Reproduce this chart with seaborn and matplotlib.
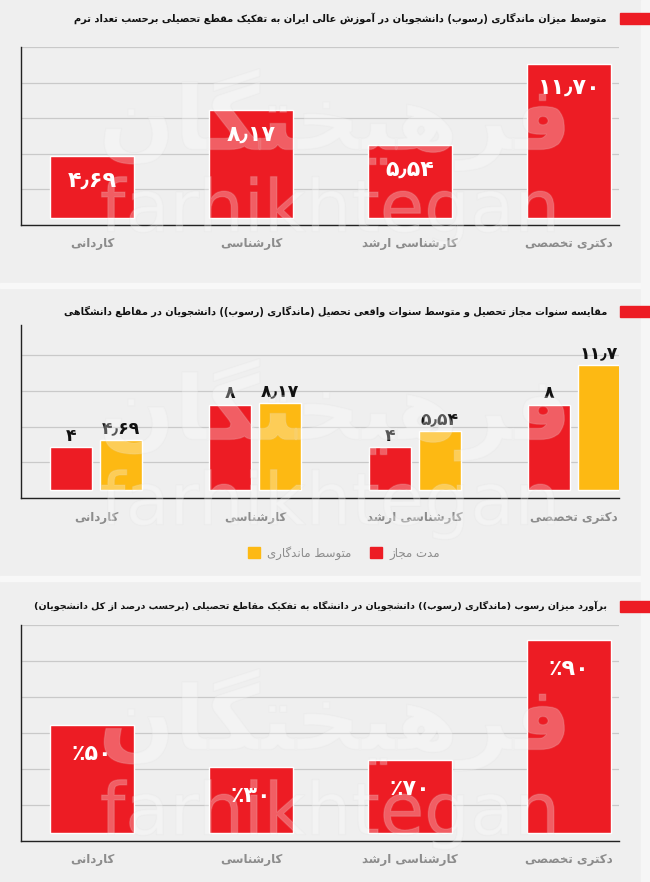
import numpy as np
import pandas as pd
import matplotlib
matplotlib.use('Agg')
import matplotlib.pyplot as plt
import matplotlib.patheffects as pe
from matplotlib.patches import Rectangle, Patch
import seaborn as sns

sns.set_style('white')
plt.rcParams['font.family'] = ['DejaVu Sans']

# ---- data ----
categories = ['کاردانی', 'کارشناسی', 'کارشناسی ارشد', 'دکتری تخصصی']
avg_terms = [4.69, 8.17, 5.54, 11.70]          # panel 1
allowed_years = [4, 8, 4, 8]                   # panel 2, red
avg_years = [4.69, 8.17, 5.54, 11.7]           # panel 2, yellow
dropout_pct = [50, 30, 70, 90]                 # panel 3 labels
dropout_bar = [2.99, 1.84, 2.04, 5.36]         # panel 3 bar heights as drawn (grid units)
titles = [
    'متوسط میزان ماندگاری (رسوب) دانشجویان در آموزش عالی ایران به تفکیک مقطع تحصیلی برحسب تعداد ترم',
    'مقایسه سنوات مجاز تحصیل و متوسط سنوات واقعی تحصیل (ماندگاری (رسوب)) دانشجویان در مقاطع دانشگاهی',
    'برآورد میزان رسوب (ماندگاری (رسوب)) دانشجویان در دانشگاه به تفکیک مقاطع تحصیلی (برحسب درصد از کل دانشجویان)',
]
series_names = ['مدت مجاز', 'متوسط ماندگاری']

RED = '#ed1c24'
YEL = '#fdb913'
BG = '#efefef'
GRAY = '#8c8c8c'

# ---- minimal persian shaping (matplotlib has no bidi) ----
forms = {
    'ا': (0xFE8D, 0xFE8E, None, None), 'آ': (0xFE81, 0xFE82, None, None),
    'ب': (0xFE8F, 0xFE90, 0xFE91, 0xFE92), 'پ': (0xFB56, 0xFB57, 0xFB58, 0xFB59),
    'ت': (0xFE95, 0xFE96, 0xFE97, 0xFE98), 'ث': (0xFE99, 0xFE9A, 0xFE9B, 0xFE9C),
    'ج': (0xFE9D, 0xFE9E, 0xFE9F, 0xFEA0), 'چ': (0xFB7A, 0xFB7B, 0xFB7C, 0xFB7D),
    'ح': (0xFEA1, 0xFEA2, 0xFEA3, 0xFEA4), 'خ': (0xFEA5, 0xFEA6, 0xFEA7, 0xFEA8),
    'د': (0xFEA9, 0xFEAA, None, None), 'ذ': (0xFEAB, 0xFEAC, None, None),
    'ر': (0xFEAD, 0xFEAE, None, None), 'ز': (0xFEAF, 0xFEB0, None, None),
    'ژ': (0xFB8A, 0xFB8B, None, None),
    'س': (0xFEB1, 0xFEB2, 0xFEB3, 0xFEB4), 'ش': (0xFEB5, 0xFEB6, 0xFEB7, 0xFEB8),
    'ص': (0xFEB9, 0xFEBA, 0xFEBB, 0xFEBC), 'ض': (0xFEBD, 0xFEBE, 0xFEBF, 0xFEC0),
    'ط': (0xFEC1, 0xFEC2, 0xFEC3, 0xFEC4), 'ظ': (0xFEC5, 0xFEC6, 0xFEC7, 0xFEC8),
    'ع': (0xFEC9, 0xFECA, 0xFECB, 0xFECC), 'غ': (0xFECD, 0xFECE, 0xFECF, 0xFED0),
    'ف': (0xFED1, 0xFED2, 0xFED3, 0xFED4), 'ق': (0xFED5, 0xFED6, 0xFED7, 0xFED8),
    'ک': (0xFB8E, 0xFB8F, 0xFB90, 0xFB91), 'گ': (0xFB92, 0xFB93, 0xFB94, 0xFB95),
    'ل': (0xFEDD, 0xFEDE, 0xFEDF, 0xFEE0), 'م': (0xFEE1, 0xFEE2, 0xFEE3, 0xFEE4),
    'ن': (0xFEE5, 0xFEE6, 0xFEE7, 0xFEE8), 'و': (0xFEED, 0xFEEE, None, None),
    'ه': (0xFEE9, 0xFEEA, 0xFEEB, 0xFEEC), 'ی': (0xFBFC, 0xFBFD, 0xFBFE, 0xFBFF),
}


def fa(s):
    out = []
    for i, ch in enumerate(s):
        if ch not in forms:
            out.append(ch)
            continue
        prev = s[i - 1] if i > 0 else ''
        nxt = s[i + 1] if i < len(s) - 1 else ''
        jp = prev in forms and forms[prev][2] is not None
        jn = nxt in forms and forms[ch][2] is not None
        iso, fin, ini, med = forms[ch]
        if jp and jn:
            g = med
        elif jp:
            g = fin
        elif jn:
            g = ini
        else:
            g = iso
        out.append(chr(g))
    mirror = {'(': ')', ')': '('}
    return ''.join(mirror.get(c, c) for c in reversed(out))


def fa_num(v, fmt):
    s = format(v, fmt).replace('.', '٫')
    return s.translate(str.maketrans('0123456789', '۰۱۲۳۴۵۶۷۸۹'))


cats = [fa(c) for c in categories]

fig = plt.figure(figsize=(6.5, 8.82), dpi=100)
fig.patch.set_facecolor(BG)
W, H = 650, 882
renderer = fig.canvas.get_renderer()


def fx(px):
    return px / W


def fy(py):
    return 1 - py / H


# light separators between the cards
for y0, y1 in [(283, 288), (576, 581)]:
    fig.patches.append(Rectangle((0, fy(y1)), 1, (y1 - y0) / H, transform=fig.transFigure,
                                 color='#f8f8f8', zorder=0))
fig.patches.append(Rectangle((fx(641), 0), 9 / W, 1, transform=fig.transFigure, color='#f6f6f6', zorder=0))


def style(ax, ylim, ticks):
    ax.set_facecolor('none')
    ax.set_ylim(*ylim)
    ax.set_yticks(ticks)
    ax.yaxis.grid(True, color='#c9c9c9', lw=0.9)
    ax.set_axisbelow(True)
    sns.despine(ax=ax)
    for sp in ['left', 'bottom']:
        ax.spines[sp].set_color('#222222')
        ax.spines[sp].set_linewidth(1.0)
    ax.tick_params(axis='y', length=0, labelleft=False)
    ax.tick_params(axis='x', length=0, pad=9, labelsize=8.5, labelcolor=GRAY)
    for lbl in ax.get_xticklabels():
        lbl.set_fontweight('bold')
    ax.set_xlabel('')
    ax.set_ylabel('')


# ---- panel 1 ----
ax1 = fig.add_axes([fx(21), fy(225), 598 / W, 178 / H])
sns.barplot(x=cats, y=avg_terms, color=RED, saturation=1, width=0.53, errorbar=None, ax=ax1)
ax1.set_xlim(-0.447, 3.314)
style(ax1, (-0.53, 12.95), np.linspace(-0.53, 12.95, 6))
ax1.bar_label(ax1.containers[0], labels=[fa_num(v, '.2f') for v in avg_terms],
              padding=-25, color='white', fontsize=16, fontweight='bold')

# ---- panel 2 ----
df2 = pd.DataFrame({
    'cat': cats * 2,
    'series': [fa(series_names[0])] * 4 + [fa(series_names[1])] * 4,
    'val': allowed_years + avg_years,
})
ax2 = fig.add_axes([fx(21), fy(498), 598 / W, 173 / H])
sns.barplot(data=df2, x='cat', y='val', hue='series', order=cats,
            hue_order=[fa(s) for s in series_names], palette=[RED, YEL],
            width=0.628, gap=0.16, saturation=1, errorbar=None, legend=False, ax=ax2)
ax2.set_xlim(-0.471, 3.283)
style(ax2, (-0.75, 15.49), -0.75 + 3.35 * np.arange(5))
for cont, vals in zip(ax2.containers, [allowed_years, avg_years]):
    ax2.bar_label(cont, labels=[fa_num(v, 'g') for v in vals], padding=2,
                  fontsize=12.5, fontweight='bold', color='#111111')
handles = [Patch(color=YEL, label=fa(series_names[1])), Patch(color=RED, label=fa(series_names[0]))]
ax2.legend(handles=handles, ncol=2, loc='center', bbox_to_anchor=(0.54, -0.318), frameon=False,
           handlelength=1, handleheight=1, handletextpad=0.6, columnspacing=1.6,
           fontsize=8.5, labelcolor=GRAY)

# ---- panel 3 ----
ax3 = fig.add_axes([fx(21), fy(841), 598 / W, 216 / H])
sns.barplot(x=cats, y=dropout_bar, color=RED, saturation=1, width=0.53, errorbar=None, ax=ax3)
ax3.set_xlim(-0.447, 3.314)
style(ax3, (-0.22, 5.78), -0.22 + np.arange(7))
ax3.bar_label(ax3.containers[0], labels=['٪' + fa_num(v, 'd') for v in dropout_pct],
              padding=-28, color='white', fontsize=16, fontweight='bold')

# ---- titles and markers (font size fitted to the title width in the reference) ----
for t, ty, my, x_left in zip(titles, [18, 311, 606], [13, 306, 601], [75, 57, 33]):
    txt = fig.text(fx(607), fy(ty), fa(t), ha='right', va='center', fontsize=10,
                   fontweight='bold', color='#111111')
    w = txt.get_window_extent(renderer).width
    txt.set_fontsize(10 * (607 - x_left) / w)
    fig.patches.append(Rectangle((fx(620), fy(my + 11)), 30 / W, 11 / H, transform=fig.transFigure,
                                 color=RED, zorder=2))

# ---- faint watermark ----
for ly, wy in [(120, 212), (410, 505), (720, 815)]:
    fig.text(fx(335), fy(ly), fa('فرهیختگان'), ha='center', va='center', fontsize=64, fontweight='bold',
             color='white', alpha=0.16, zorder=5,
             path_effects=[pe.withStroke(linewidth=1.0, foreground='#dcdcdc')])
    fig.text(fx(330), fy(wy), 'farhikhtegan', ha='center', va='center', fontsize=52,
             color='white', alpha=0.16, zorder=5,
             path_effects=[pe.withStroke(linewidth=1.0, foreground='#dcdcdc')])

fig.savefig('out.png', dpi=100, facecolor=fig.get_facecolor())
